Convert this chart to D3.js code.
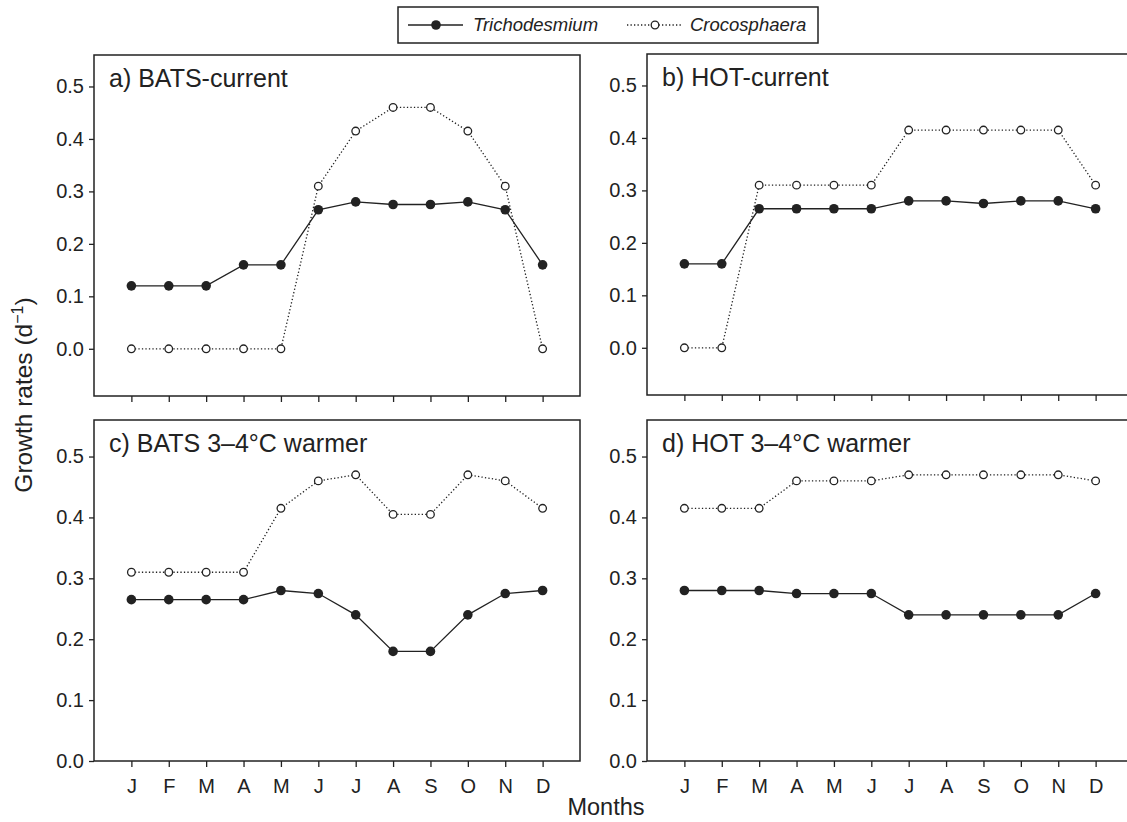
<!doctype html>
<html lang="en">
    <head>
        <meta charset="utf-8">
        <title>Growth rates</title>
        <style>
            body { margin: 0; background: #fff; }
            svg text { font-family: "Liberation Sans", Arial, Helvetica, sans-serif; fill: #222; }
            .axis path, .axis line { stroke: #222; stroke-width: 1.3; }
        </style>
    </head>
    <body>
        <svg width="1127" height="822"></svg>
        <script src="https://d3js.org/d3.v7.min.js"></script>
        <script>

        var months = ["J", "F", "M", "A", "M", "J", "J", "A", "S", "O", "N", "D"];
        var yTicks = [0, 0.1, 0.2, 0.3, 0.4, 0.5];

        var titles = ["a) BATS-current", "b) HOT-current", "c) BATS 3\u20134\u00b0C warmer", "d) HOT 3\u20134\u00b0C warmer"];

        // Trichodesmium (filled circles, solid line)
        var trichoA = [0.12, 0.12, 0.12, 0.16, 0.16, 0.265, 0.28, 0.275, 0.275, 0.28, 0.265, 0.16];
        var trichoB = [0.16, 0.16, 0.265, 0.265, 0.265, 0.265, 0.28, 0.28, 0.275, 0.28, 0.28, 0.265];
        var trichoC = [0.265, 0.265, 0.265, 0.265, 0.28, 0.275, 0.24, 0.18, 0.18, 0.24, 0.275, 0.28];
        var trichoD = [0.28, 0.28, 0.28, 0.275, 0.275, 0.275, 0.24, 0.24, 0.24, 0.24, 0.24, 0.275];

        // Crocosphaera (open circles, dotted line)
        var crocoA = [0, 0, 0, 0, 0, 0.31, 0.415, 0.46, 0.46, 0.415, 0.31, 0];
        var crocoB = [0, 0, 0.31, 0.31, 0.31, 0.31, 0.415, 0.415, 0.415, 0.415, 0.415, 0.31];
        var crocoC = [0.31, 0.31, 0.31, 0.31, 0.415, 0.46, 0.47, 0.405, 0.405, 0.47, 0.46, 0.415];
        var crocoD = [0.415, 0.415, 0.415, 0.46, 0.46, 0.46, 0.47, 0.47, 0.47, 0.47, 0.47, 0.46];

        var panels = [
            { title: titles[0], tricho: trichoA, croco: crocoA, x0: 94, y0: 55, yMin: -0.09, labels: false },
            { title: titles[1], tricho: trichoB, croco: crocoB, x0: 647, y0: 54, yMin: -0.09, labels: false },
            { title: titles[2], tricho: trichoC, croco: crocoC, x0: 94, y0: 420, yMin: 0, labels: true },
            { title: titles[3], tricho: trichoD, croco: crocoD, x0: 647, y0: 420, yMin: 0, labels: true }
        ];

        var svg = d3.select("svg"),
            pw = 486,
            ph = 341;

        panels.forEach(function(p) {
            var g = svg.append("g").attr("transform", "translate(" + p.x0 + "," + p.y0 + ")");

            var x = d3.scaleLinear().domain([0, 13]).range([0, pw]);
            var y = d3.scaleLinear().domain([p.yMin, 0.56]).range([ph, 0]);

            var xAxis = d3.axisBottom(x)
                .tickValues(d3.range(1, 13))
                .tickSize(6)
                .tickSizeOuter(0)
                .tickPadding(12)
                .tickFormat(function(d) { return p.labels ? months[d - 1] : ""; });

            var yAxis = d3.axisLeft(y)
                .tickValues(yTicks)
                .tickSize(5)
                .tickSizeOuter(0)
                .tickPadding(5)
                .tickFormat(d3.format(".1f"));

            g.append("g").attr("class", "axis")
                .attr("transform", "translate(0," + ph + ")")
                .call(xAxis)
                .selectAll("text").style("font-size", "20px");

            g.append("g").attr("class", "axis")
                .call(yAxis)
                .selectAll("text").style("font-size", "20px");

            g.selectAll(".axis .domain").remove();

            // right-hand panels run past the edge of the picture
            g.append("rect")
                .attr("width", p.x0 > 300 ? pw + 20 : pw)
                .attr("height", ph)
                .attr("fill", "none")
                .attr("stroke", "#222")
                .attr("stroke-width", 1.5);

            g.append("text")
                .attr("x", 15)
                .attr("y", 32)
                .style("font-size", "25px")
                .text(p.title);

            var line = d3.line()
                .x(function(d, i) { return x(i + 1); })
                .y(function(d) { return y(d); });

            g.append("path")
                .attr("d", line(p.croco))
                .attr("fill", "none")
                .attr("stroke", "#222")
                .attr("stroke-width", 1.3)
                .attr("stroke-dasharray", "1.3,2.2");

            g.append("path")
                .attr("d", line(p.tricho))
                .attr("fill", "none")
                .attr("stroke", "#222")
                .attr("stroke-width", 1.3);

            g.selectAll(".croco")
                .data(p.croco)
                .enter().append("circle")
                .attr("class", "croco")
                .attr("cx", function(d, i) { return x(i + 1); })
                .attr("cy", function(d) { return y(d); })
                .attr("r", 3.8)
                .attr("fill", "#fff")
                .attr("stroke", "#222")
                .attr("stroke-width", 1.3);

            g.selectAll(".tricho")
                .data(p.tricho)
                .enter().append("circle")
                .attr("class", "tricho")
                .attr("cx", function(d, i) { return x(i + 1); })
                .attr("cy", function(d) { return y(d); })
                .attr("r", 4.8)
                .attr("fill", "#222");
        });

        // axis titles
        svg.append("text")
            .attr("x", 606)
            .attr("y", 815)
            .attr("text-anchor", "middle")
            .style("font-size", "23.5px")
            .text("Months");

        var ylab = svg.append("text")
            .attr("transform", "translate(32,395) rotate(-90)")
            .attr("text-anchor", "middle")
            .style("font-size", "24.5px");
        ylab.append("tspan").text("Growth rates (d");
        ylab.append("tspan").attr("dy", -9).style("font-size", "16px").text("\u22121");
        ylab.append("tspan").attr("dy", 9).text(")");

        // legend
        var legend = svg.append("g");
        legend.append("rect")
            .attr("x", 398).attr("y", 7)
            .attr("width", 420).attr("height", 36)
            .attr("fill", "#fff")
            .attr("stroke", "#222")
            .attr("stroke-width", 1.5);

        legend.append("line")
            .attr("x1", 408).attr("x2", 463).attr("y1", 25).attr("y2", 25)
            .attr("stroke", "#222").attr("stroke-width", 1.3);
        legend.append("circle")
            .attr("cx", 436).attr("cy", 25).attr("r", 4.8).attr("fill", "#222");
        legend.append("text")
            .attr("x", 473).attr("y", 31)
            .style("font-size", "18.5px").style("font-style", "italic")
            .text("Trichodesmium");

        legend.append("line")
            .attr("x1", 627).attr("x2", 682).attr("y1", 25).attr("y2", 25)
            .attr("stroke", "#222").attr("stroke-width", 1.3)
            .attr("stroke-dasharray", "1.3,2.2");
        legend.append("circle")
            .attr("cx", 655).attr("cy", 25).attr("r", 3.8)
            .attr("fill", "#fff").attr("stroke", "#222").attr("stroke-width", 1.3);
        legend.append("text")
            .attr("x", 690).attr("y", 31)
            .style("font-size", "18.5px").style("font-style", "italic")
            .text("Crocosphaera");

        </script>
    </body>
</html>
